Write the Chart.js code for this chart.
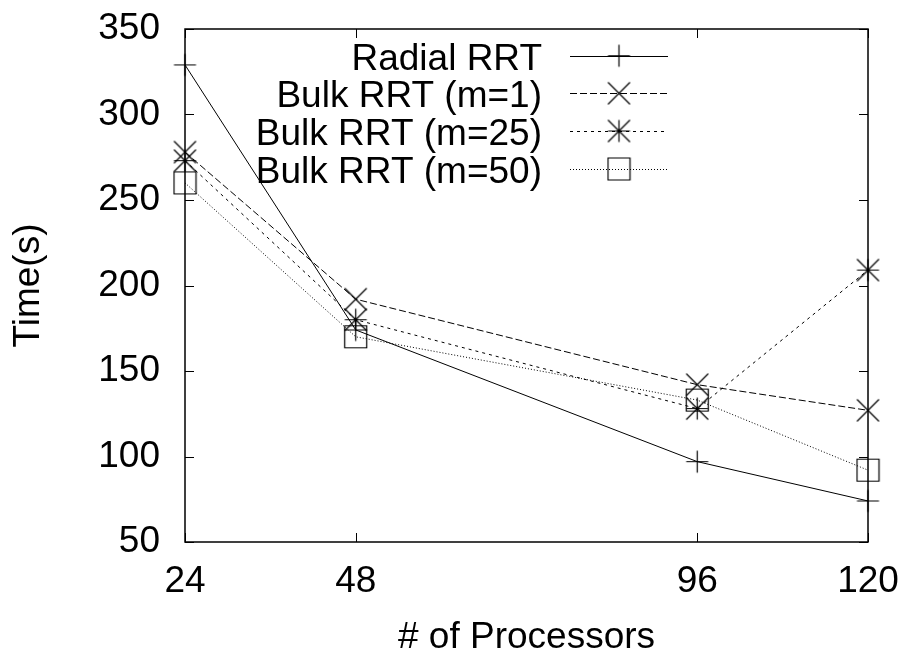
<!DOCTYPE html>
<html><head><meta charset="utf-8">
<script src="https://cdn.jsdelivr.net/npm/chart.js@4"></script>
<style>html,body{margin:0;padding:0;background:#fff}#wrap{width:909px;height:654px}</style>
</head><body><div id="wrap"><canvas id="c" width="909" height="654"></canvas></div>
<script>
const processors = [24, 48, 96, 120];
const xTickValues = [24, 48, 96, 120];
const yTickValues = [50, 100, 150, 200, 250, 300, 350];
const seriesNames = ['Radial RRT', 'Bulk RRT (m=1)', 'Bulk RRT (m=25)', 'Bulk RRT (m=50)'];
const radialRRT = [329, 174, 97, 74];
const bulkM1 = [278, 192, 142, 127];
const bulkM25 = [273, 180, 128, 209];
const bulkM50 = [260, 170, 133, 92];

const FONT = "'Liberation Sans', Arial, sans-serif";

function makeMarker(type) {
  const s = 25, c = document.createElement('canvas');
  c.width = s; c.height = s;
  const g = c.getContext('2d');
  g.strokeStyle = '#000'; g.lineWidth = 1.2;
  const m = 12.5, h = 11;
  g.beginPath();
  if (type === 'plus' || type === 'star') {
    g.moveTo(m - h, m); g.lineTo(m + h, m);
    g.moveTo(m, m - h); g.lineTo(m, m + h);
  }
  if (type === 'x' || type === 'star') {
    g.moveTo(m - h, m - h); g.lineTo(m + h, m + h);
    g.moveTo(m + h, m - h); g.lineTo(m - h, m + h);
  }
  if (type === 'square') {
    g.rect(m - h, m - h, 2 * h, 2 * h);
  }
  g.stroke();
  return c;
}
const markers = [makeMarker('plus'), makeMarker('x'), makeMarker('star'), makeMarker('square')];
const dashes = [[], [7, 3], [3, 4], [1, 2]];
const seriesValues = [radialRRT, bulkM1, bulkM25, bulkM50];

const datasets = seriesValues.map((vals, i) => ({
  label: seriesNames[i],
  data: processors.map((x, j) => ({ x: x, y: vals[j] })),
  borderColor: '#000',
  borderWidth: 1,
  borderDash: dashes[i],
  pointStyle: markers[i],
  pointRadius: 12,
  pointHoverRadius: 12,
  fill: false,
  tension: 0,
  clip: false
}));

const framePlugin = {
  id: 'frame',
  afterDraw(chart) {
    const ctx = chart.ctx, a = chart.chartArea;
    const xs = chart.scales.x, ys = chart.scales.y;
    ctx.save();
    ctx.strokeStyle = '#000';
    ctx.lineWidth = 1.5;
    ctx.setLineDash([]);
    ctx.strokeRect(a.left, a.top, a.right - a.left, a.bottom - a.top);
    ctx.lineWidth = 1;
    ctx.beginPath();
    const tl = 9;
    xTickValues.forEach(v => {
      const px = Math.round(xs.getPixelForValue(v)) + 0.5;
      ctx.moveTo(px, a.bottom); ctx.lineTo(px, a.bottom - tl);
      ctx.moveTo(px, a.top); ctx.lineTo(px, a.top + tl);
    });
    yTickValues.forEach(v => {
      const py = Math.round(ys.getPixelForValue(v)) + 0.5;
      ctx.moveTo(a.left, py); ctx.lineTo(a.left + tl, py);
      ctx.moveTo(a.right, py); ctx.lineTo(a.right - tl, py);
    });
    ctx.stroke();

    // legend
    const rows = [55.7, 93.3, 131, 169];
    ctx.font = '37px ' + FONT;
    ctx.fillStyle = '#000';
    ctx.textAlign = 'right';
    ctx.textBaseline = 'alphabetic';
    rows.forEach((ry, i) => {
      ctx.fillText(seriesNames[i], 542, ry + 14);
      ctx.beginPath();
      ctx.setLineDash(dashes[i]);
      ctx.lineWidth = 1;
      ctx.moveTo(570, Math.round(ry) + 0.5);
      ctx.lineTo(668, Math.round(ry) + 0.5);
      ctx.stroke();
      ctx.setLineDash([]);
      ctx.drawImage(markers[i], 619 - 12.5, ry - 12.5);
    });
    ctx.restore();
  }
};

new Chart(document.getElementById('c'), {
  type: 'line',
  data: { datasets: datasets },
  options: {
    responsive: false,
    animation: false,
    devicePixelRatio: 1,
    layout: { padding: { left: 0, right: 41, top: 29, bottom: 0 } },
    plugins: { legend: { display: false }, tooltip: { enabled: false } },
    scales: {
      x: {
        type: 'linear',
        min: 24, max: 120,
        afterBuildTicks: s => { s.ticks = xTickValues.map(v => ({ value: v })); },
        afterFit: s => { s.height = 112; s.paddingLeft = 0; s.paddingRight = 0; },
        grid: { display: false, drawTicks: false },
        border: { display: false },
        ticks: { color: '#000', font: { family: FONT, size: 37 }, padding: 18, maxRotation: 0, autoSkip: false },
        title: { display: true, text: '# of Processors', color: '#000', font: { family: FONT, size: 37, lineHeight: 1 }, padding: { top: 0, bottom: -2 } }
      },
      y: {
        type: 'linear',
        min: 50, max: 350,
        afterBuildTicks: s => { s.ticks = yTickValues.map(v => ({ value: v })); },
        afterFit: s => { s.width = 185; s.paddingTop = 0; s.paddingBottom = 0; },
        grid: { display: false, drawTicks: false },
        border: { display: false },
        ticks: { color: '#000', font: { family: FONT, size: 37 }, padding: 25, autoSkip: false },
        title: { display: true, text: 'Time(s)', color: '#000', font: { family: FONT, size: 37, lineHeight: 1 }, padding: { top: 10, bottom: 0 } }
      }
    }
  },
  plugins: [framePlugin]
});
</script></body></html>
